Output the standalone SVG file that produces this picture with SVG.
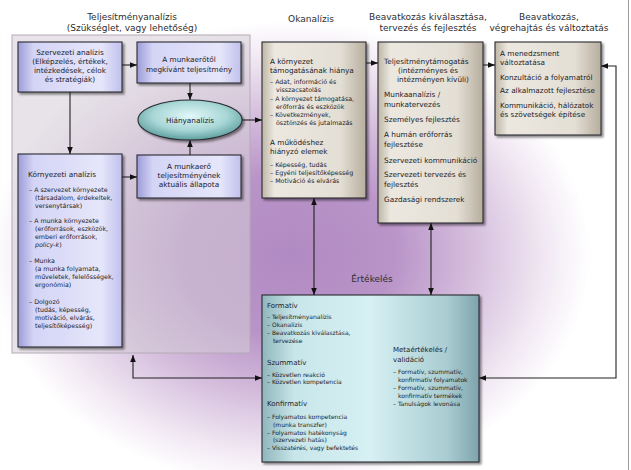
<svg xmlns="http://www.w3.org/2000/svg" width="631" height="470" viewBox="0 0 631 470">
<defs>
<style>
text{font-family:"DejaVu Sans",Verdana,sans-serif;fill:#1c1c28}
.ti{font-size:9px;fill:#2e2e2e;text-anchor:middle}
.h{font-size:7.3px}
.hc{font-size:7.3px;text-anchor:middle}
.s{font-size:6.3px}
.e{font-size:6px}
.eh{font-size:7px}
.box{stroke:#2a2a30;stroke-width:1.1}
.ln{fill:none;stroke:#222;stroke-width:1.1}
</style>
<radialGradient id="bgG" gradientUnits="userSpaceOnUse" cx="290" cy="255" r="300" gradientTransform="translate(290 255) scale(1 0.78) translate(-290 -255)">
<stop offset="0" stop-color="#b08ac2"/>
<stop offset="0.35" stop-color="#b994c8"/>
<stop offset="0.6" stop-color="#d4bcdc"/>
<stop offset="0.85" stop-color="#f1e8f3"/>
<stop offset="1" stop-color="#ffffff"/>
</radialGradient>
<linearGradient id="lav" x1="0" y1="0" x2="1" y2="0">
<stop offset="0" stop-color="#9c9cd8"/>
<stop offset="0.15" stop-color="#d4d4f6"/>
<stop offset="0.8" stop-color="#e6e6fb"/>
<stop offset="1" stop-color="#c0c0ec"/>
</linearGradient>
<linearGradient id="beige" x1="0" y1="0" x2="1" y2="0">
<stop offset="0" stop-color="#bdb6a6"/>
<stop offset="0.12" stop-color="#ece8e0"/>
<stop offset="0.75" stop-color="#e4dfd5"/>
<stop offset="1" stop-color="#b7ae9e"/>
</linearGradient>
<linearGradient id="teal" x1="0" y1="0" x2="1" y2="0">
<stop offset="0" stop-color="#8fb6bc"/>
<stop offset="0.15" stop-color="#c8e6ea"/>
<stop offset="0.5" stop-color="#d6f0f3"/>
<stop offset="0.85" stop-color="#a9cdd2"/>
<stop offset="1" stop-color="#7ea3aa"/>
</linearGradient>
<radialGradient id="ell" cx="0.5" cy="0.4" r="0.6">
<stop offset="0" stop-color="#e2f8f8"/>
<stop offset="0.6" stop-color="#a8d6d6"/>
<stop offset="1" stop-color="#5e9e9e"/>
</radialGradient>
<filter id="sh" x="-10%" y="-10%" width="130%" height="130%">
<feDropShadow dx="2" dy="2" stdDeviation="1.2" flood-color="#000" flood-opacity="0.45"/>
</filter>
<marker id="ah" viewBox="0 0 10 10" refX="10" refY="5" markerWidth="7" markerHeight="7" markerUnits="userSpaceOnUse" orient="auto-start-reverse">
<path d="M0,1 L10,5 L0,9 z" fill="#111"/>
</marker>
</defs>

<g id="background">
<rect x="0" y="0" width="631" height="470" fill="#ffffff"/>
<rect x="0" y="0" width="631" height="470" fill="url(#bgG)"/>
<line x1="628.5" y1="0" x2="628.5" y2="470" stroke="#999" stroke-width="1"/>
<rect x="12" y="35" width="238" height="318" fill="#d4ccd6" fill-opacity="0.55" stroke="#b4aab6" stroke-width="1"/>
</g>

<g id="titles">
<text class="ti" x="132" y="20">Teljesítményanalízis</text>
<text class="ti" x="132" y="31">(Szükséglet, vagy lehetőség)</text>
<text class="ti" x="311" y="22">Okanalízis</text>
<text class="ti" x="428" y="20">Beavatkozás kiválasztása,</text>
<text class="ti" x="428" y="31">tervezés és fejlesztés</text>
<text class="ti" x="549" y="20">Beavatkozás,</text>
<text class="ti" x="549" y="31">végrehajtás és változtatás</text>
<text class="ti" x="372" y="282">Értékelés</text>
</g>

<g id="n-szervezeti">
<rect class="box" x="18" y="42" width="104" height="50" fill="url(#lav)" filter="url(#sh)"/>
<text class="hc" x="70" y="55">Szervezeti analízis</text>
<text class="hc" x="70" y="64">(Elképzelés, értékek,</text>
<text class="hc" x="70" y="73">intézkedések, célok</text>
<text class="hc" x="70" y="82">és stratégiák)</text>
</g>

<g id="n-munkaerotol">
<rect class="box" x="137" y="42" width="104" height="41" fill="url(#lav)" filter="url(#sh)"/>
<text class="hc" x="189" y="62">A munkaerőtől</text>
<text class="hc" x="189" y="72">megkívánt teljesítmény</text>
</g>

<g id="n-hianyanalizis">
<ellipse class="box" cx="190" cy="120" rx="52" ry="20" fill="url(#ell)" filter="url(#sh)"/>
<text class="hc" x="190" y="123">Hiányanalízis</text>
</g>

<g id="n-aktualis">
<rect class="box" x="137" y="155" width="104" height="43" fill="url(#lav)" filter="url(#sh)"/>
<text class="hc" x="189" y="168.5">A munkaerő</text>
<text class="hc" x="189" y="178">teljesítményének</text>
<text class="hc" x="189" y="187">aktuális állapota</text>
</g>

<g id="n-kornyezeti">
<rect class="box" x="18" y="154" width="104" height="193" fill="url(#lav)" filter="url(#sh)"/>
<text class="h" x="28" y="177">Környezeti analízis</text>
<text class="s" x="29" y="192">– A szervezet környezete</text>
<text class="s" x="35" y="200">(társadalom, érdekeltek,</text>
<text class="s" x="35" y="208">versenytársak)</text>
<text class="s" x="29" y="223">– A munka környezete</text>
<text class="s" x="35" y="231">(erőforrások, eszközök,</text>
<text class="s" x="35" y="239">emberi erőforrások,</text>
<text class="s" x="35" y="247"><tspan font-style="italic">policy-k</tspan>)</text>
<text class="s" x="29" y="263">– Munka</text>
<text class="s" x="35" y="271">(a munka folyamata,</text>
<text class="s" x="35" y="279">műveletek, felelősségek,</text>
<text class="s" x="35" y="287">ergonómia)</text>
<text class="s" x="29" y="304">– Dolgozó</text>
<text class="s" x="35" y="312">(tudás, képesség,</text>
<text class="s" x="35" y="320">motiváció, elvárás,</text>
<text class="s" x="35" y="328">teljesítőképesség)</text>
</g>

<g id="n-okanalizis">
<rect class="box" x="262" y="42" width="104" height="156" fill="url(#beige)" filter="url(#sh)"/>
<text class="h" x="270" y="63.5">A környezet</text>
<text class="h" x="270" y="72.5">támogatásának hiánya</text>
<text class="s" x="270" y="84">– Adat, információ és</text>
<text class="s" x="276" y="92">visszacsatolás</text>
<text class="s" x="270" y="101">– A környezet támogatása,</text>
<text class="s" x="276" y="109">erőforrás és eszközök</text>
<text class="s" x="270" y="117">– Következmények,</text>
<text class="s" x="276" y="125">ösztönzés és jutalmazás</text>
<text class="h" x="270" y="144.5">A működéshez</text>
<text class="h" x="270" y="153.5">hiányzó elemek</text>
<text class="s" x="270" y="166.5">– Képesség, tudás</text>
<text class="s" x="270" y="174.5">– Egyéni teljesítőképesség</text>
<text class="s" x="270" y="182.5">– Motiváció és elvárás</text>
</g>

<g id="n-beavatkozas">
<rect class="box" x="378" y="42" width="105" height="181" fill="url(#beige)" filter="url(#sh)"/>
<text class="h" x="384" y="63.5">Teljesítménytámogatás</text>
<text class="h" x="398" y="72.5">(intézményes és</text>
<text class="h" x="397" y="82">intézményen kívüli)</text>
<text class="h" x="384" y="96.5">Munkaanalízis /</text>
<text class="h" x="384" y="106.5">munkatervezés</text>
<text class="h" x="384" y="122">Személyes fejlesztés</text>
<text class="h" x="384" y="137">A humán erőforrás</text>
<text class="h" x="384" y="146.5">fejlesztése</text>
<text class="h" x="384" y="162.5">Szervezeti kommunikáció</text>
<text class="h" x="384" y="176.5">Szervezeti tervezés és</text>
<text class="h" x="384" y="186.5">fejlesztés</text>
<text class="h" x="384" y="202">Gazdasági rendszerek</text>
</g>

<g id="n-vegrehajtas">
<rect class="box" x="495" y="42" width="106" height="93" fill="url(#beige)" filter="url(#sh)"/>
<text class="h" x="500" y="56">A menedzsment</text>
<text class="h" x="500" y="64.5">változtatása</text>
<text class="h" x="500" y="79.5">Konzultáció a folyamatról</text>
<text class="h" x="500" y="92.5">Az alkalmazott fejlesztése</text>
<text class="h" x="500" y="108">Kommunikáció, hálózatok</text>
<text class="h" x="500" y="116.5">és szövetségek építése</text>
</g>

<g id="n-ertekeles">
<rect class="box" x="262" y="295" width="217" height="167" fill="url(#teal)" filter="url(#sh)"/>
<text class="eh" x="267" y="307.5">Formatív</text>
<text class="e" x="267" y="319">– Teljesítményanalízis</text>
<text class="e" x="267" y="326.5">– Okanalízis</text>
<text class="e" x="267" y="334.5">– Beavatkozás kiválasztása,</text>
<text class="e" x="273" y="343">tervezése</text>
<text class="eh" x="267" y="364.5">Szummatív</text>
<text class="e" x="267" y="377">– Közvetlen reakció</text>
<text class="e" x="267" y="384">– Közvetlen kompetencia</text>
<text class="eh" x="267" y="405.5">Konfirmatív</text>
<text class="e" x="267" y="419">– Folyamatos kompetencia</text>
<text class="e" x="273" y="426.5">(munka transzfer)</text>
<text class="e" x="267" y="434.5">– Folyamatos hatékonyság</text>
<text class="e" x="273" y="442">(szervezeti hatás)</text>
<text class="e" x="267" y="450">– Visszatérés, vagy befektetés</text>
<text class="eh" x="393" y="352">Metaértékelés /</text>
<text class="eh" x="393" y="361.5">validáció</text>
<text class="e" x="393" y="374">– Formatív, szummatív,</text>
<text class="e" x="398" y="381.5">konfirmatív folyamatok</text>
<text class="e" x="393" y="389.5">– Formatív, szummatív,</text>
<text class="e" x="398" y="397.5">konfirmatív termékek</text>
<text class="e" x="393" y="405.5">– Tanulságok levonása</text>
</g>

<g id="connectors">
<line class="ln" x1="122" y1="65" x2="137" y2="65" marker-end="url(#ah)"/>
<line class="ln" x1="190" y1="83" x2="190" y2="100" marker-end="url(#ah)"/>
<line class="ln" x1="190" y1="155" x2="190" y2="140" marker-end="url(#ah)"/>
<line class="ln" x1="70" y1="92" x2="70" y2="154" marker-end="url(#ah)"/>
<line class="ln" x1="122" y1="177" x2="137" y2="177" marker-end="url(#ah)"/>
<line class="ln" x1="242" y1="120" x2="262" y2="120" marker-end="url(#ah)"/>
<line class="ln" x1="366" y1="63" x2="378" y2="63" marker-end="url(#ah)"/>
<line class="ln" x1="483" y1="65" x2="495" y2="65" marker-end="url(#ah)"/>
<line class="ln" x1="314" y1="198" x2="314" y2="295" marker-start="url(#ah)" marker-end="url(#ah)"/>
<line class="ln" x1="431" y1="223" x2="431" y2="295" marker-start="url(#ah)" marker-end="url(#ah)"/>
<path class="ln" d="M262,378 H133 V355" marker-start="url(#ah)" marker-end="url(#ah)"/>
<path class="ln" d="M479,378 H616 V66 H601" marker-start="url(#ah)" marker-end="url(#ah)"/>
</g>
</svg>
